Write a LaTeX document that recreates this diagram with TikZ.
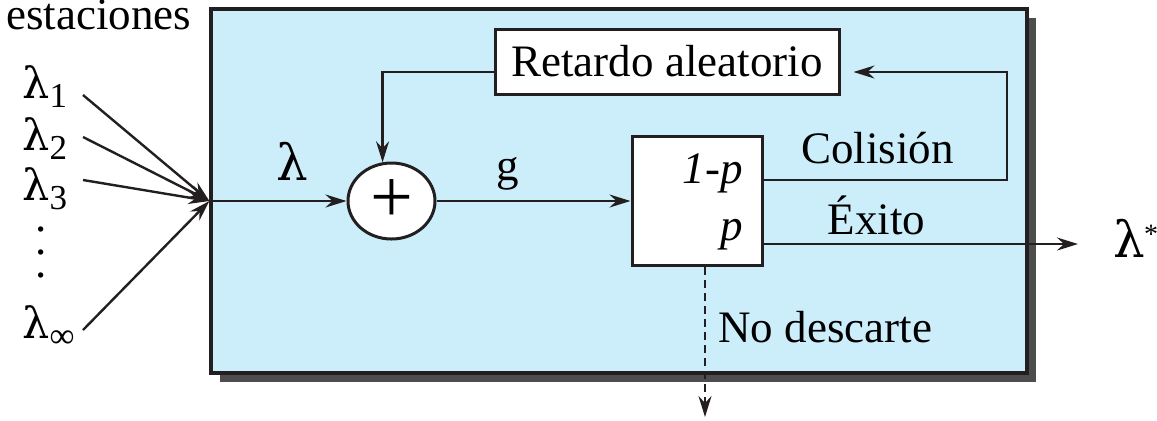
\documentclass[tikz,border=0pt]{standalone}
\usepackage{fontspec}
\setmainfont{Liberation Serif}
\newfontfamily\greekfont{DejaVu Serif}
\usetikzlibrary{arrows.meta,shapes.geometric,shadows}

\definecolor{panelblue}{HTML}{CCEEFA}
\definecolor{inkdark}{HTML}{231F20}
\definecolor{shadowgray}{HTML}{4D4D4D}

\newcommand{\lamsub}[1]{{\greekfont\fontsize{21.5}{21.5}\selectfont λ}\raisebox{-4.5pt}{\fontsize{17.5}{17.5}\selectfont #1}}
\newcommand{\lamstar}{{\greekfont\fontsize{25}{25}\selectfont λ}\kern-0.5pt\raisebox{7pt}{\fontsize{14}{14}\selectfont *}}

\begin{document}
\begin{tikzpicture}[
  x=0.5pt, y=-0.5pt,
  font=\fontsize{22.5}{27}\selectfont,
  panel/.style={draw=inkdark, line width=1.6pt, fill=panelblue, minimum width=408pt, minimum height=182pt,
    drop shadow={shadow xshift=4.5pt, shadow yshift=-4.5pt, fill=shadowgray, opacity=1}},
  block/.style={draw=inkdark, line width=1.5pt, fill=white, inner sep=0pt},
  adder/.style={ellipse, draw=inkdark, line width=1.5pt, fill=white, minimum width=43.5pt, minimum height=38pt, inner sep=0pt},
  flow/.style={draw=inkdark, line width=1.2pt},
  lbl/.style={anchor=base, inner sep=0pt},
  >={Stealth[length=10.5pt, width=6.5pt, inset=3.5pt]}
]
\useasboundingbox (0,0) rectangle (1157,420);

% system panel
\node[panel] (sys) at (619,191) {};
\coordinate (merge) at ([yshift=-5pt]sys.west);

% stations
\node[lbl, anchor=base west] (est) at (6,29) {estaciones};
\node[lbl, anchor=base west] (l1) at (22,98) {\lamsub{1}};
\node[lbl, anchor=base west] (l2) at (22,150) {\lamsub{2}};
\node[lbl, anchor=base west] (l3) at (22,200) {\lamsub{3}};
\node[lbl] (d1) at (40.7,231.3) {.};
\node[lbl] (d2) at (40.7,254.3) {.};
\node[lbl] (d3) at (40.7,277.3) {.};
\node[lbl, anchor=base west] (l4) at (22,338) {\lamsub{∞}};

\coordinate (s1) at (83,95);
\coordinate (s2) at (83,137);
\coordinate (s3) at (83,180);
\coordinate (s4) at (83,330);
\draw[flow,->] (s1) -- (merge);
\draw[flow,->] (s2) -- (merge);
\draw[flow,->] (s3) -- (merge);
\draw[flow,->] (s4) -- (merge);

% blocks
\node[adder] (sum) at (391.5,201) {\fontsize{38}{38}\selectfont +};
\node[block, minimum width=65pt, minimum height=64.5pt] (sw) at (697,201) {};
\node[lbl, anchor=base east] (q) at (743,183) {\textit{1-p}};
\node[lbl, anchor=base east] (pp) at (743,240) {\textit{p}};
\node[block, minimum width=172pt, minimum height=32.5pt] (ret) at (667,61.5) {Retardo aleatorio};

% main flow
\draw[flow,->] (merge) -- (sum);
\node[lbl] (lam) at (292,180) {\greekfont\fontsize{25}{25}\selectfont λ};
\draw[flow,->] (sum) -- (sw);
\node[lbl] (g) at (508,180) {g};

% collision feedback
\coordinate (turn) at (1007,72);
\draw[flow,->, shorten >=6.5pt] ([yshift=10.5pt]sw.east) -| (turn) -- ([yshift=-5.25pt]ret.east);
\draw[flow,->] ([yshift=-5.25pt]ret.west) -| (sum.103);
\node[lbl] (col) at (877.5,163) {Colisión};

% success output
\node[lbl] (exi) at (876.5,234) {Éxito};
\node[lbl, anchor=base west] (out) at (1113,257) {\lamstar};
\draw[flow,->, shorten >=17.5pt] ([yshift=-21.5pt]sw.east) -- ([yshift=-21.5pt]sw.east -| out.west);

% discard
\coordinate (drop) at (705,417);
\draw[flow,->, dash pattern=on 4pt off 2.5pt] ([xshift=4pt]sw.south) -- (drop);
\node[lbl, anchor=base west] (nod) at (718,342) {No descarte};
\end{tikzpicture}
\end{document}
